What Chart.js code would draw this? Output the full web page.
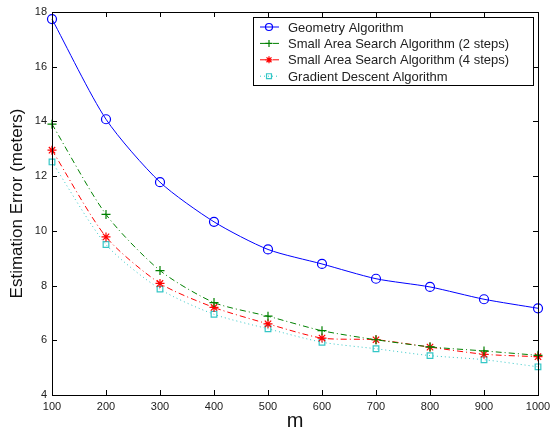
<!DOCTYPE html>
<html>
<head>
<meta charset="utf-8">
<script src="https://cdn.jsdelivr.net/npm/chart.js@4/dist/chart.umd.min.js"></script>
<style>
  html, body { margin: 0; padding: 0; background: #fff; }
  #wrap { width: 551px; height: 437px; }
</style>
</head>
<body>
<div id="wrap"><canvas id="c"></canvas></div>
<script>
const mValues = [100, 200, 300, 400, 500, 600, 700, 800, 900, 1000];
const geometry = [17.74, 14.08, 11.78, 10.33, 9.32, 8.79, 8.25, 7.95, 7.5, 7.17];
const sas2 = [13.9, 10.6, 8.55, 7.38, 6.88, 6.35, 6.02, 5.76, 5.61, 5.45];
const sas4 = [12.95, 9.78, 8.08, 7.2, 6.6, 6.08, 6.02, 5.75, 5.49, 5.4];
const gradient = [12.52, 9.5, 7.87, 6.95, 6.42, 5.93, 5.69, 5.44, 5.29, 5.03];
const labels = [
  "Geometry Algorithm",
  "Small Area Search Algorithm (2 steps)",
  "Small Area Search Algorithm (4 steps)",
  "Gradient Descent Algorithm"
];

const FONT = "Arial, 'Liberation Sans', Helvetica, sans-serif";

function pts(ys) {
  return mValues.map((x, i) => ({ x: x, y: ys[i] }));
}

// inward ticks on all sides, box frame, and the legend box
const framePlugin = {
  id: "frame",
  afterDatasetsDraw(chart) {
    const ctx = chart.ctx;
    const a = chart.chartArea;
    const xs = chart.scales.x, ys = chart.scales.y;
    ctx.save();
    ctx.strokeStyle = "#000";
    ctx.lineWidth = 1;
    ctx.strokeRect(Math.round(a.left) + 0.5, Math.round(a.top) + 0.5,
      Math.round(a.right - a.left), Math.round(a.bottom - a.top));
    ctx.beginPath();
    xs.ticks.forEach(t => {
      const px = Math.round(xs.getPixelForValue(t.value)) + 0.5;
      ctx.moveTo(px, a.bottom); ctx.lineTo(px, a.bottom - 5);
      ctx.moveTo(px, a.top); ctx.lineTo(px, a.top + 5);
    });
    ys.ticks.forEach(t => {
      const py = Math.round(ys.getPixelForValue(t.value)) + 0.5;
      ctx.moveTo(a.left, py); ctx.lineTo(a.left + 5, py);
      ctx.moveTo(a.right, py); ctx.lineTo(a.right - 5, py);
    });
    ctx.stroke();

    // legend
    const bx = 253, by = 17, bw = 280, bh = 68;
    ctx.fillStyle = "#fff";
    ctx.fillRect(bx, by, bw, bh);
    ctx.strokeStyle = "#000";
    ctx.strokeRect(bx + 0.5, by + 0.5, bw, bh);
    ctx.font = "13px " + FONT;
    ctx.textBaseline = "middle";
    chart.data.datasets.forEach((ds, i) => {
      const cy = 27 + i * 16.4;
      ctx.strokeStyle = ds.borderColor;
      ctx.lineWidth = 1;
      ctx.setLineDash(ds.borderDash || []);
      ctx.beginPath();
      ctx.moveTo(260, cy); ctx.lineTo(279, cy);
      ctx.stroke();
      ctx.setLineDash([]);
      ctx.fillStyle = "rgba(0,0,0,0)";
      ctx.lineWidth = 1.2;
      Chart.helpers.drawPoint(ctx, {
        pointStyle: ds.pointStyle, radius: 3.5, rotation: 0,
        borderWidth: 1.2
      }, 269, cy);
      ctx.fillStyle = "#222";
      ctx.fillText(labels[i], 288, cy + 1);
    });
    ctx.restore();
  }
};

function makeSet(i, ys, color, style, dash, radius) {
  return {
    label: labels[i],
    data: pts(ys),
    borderColor: color,
    backgroundColor: "rgba(0,0,0,0)",
    pointBorderColor: color,
    pointBackgroundColor: "rgba(0,0,0,0)",
    pointStyle: style,
    pointRadius: radius,
    pointBorderWidth: 1.2,
    borderWidth: 1,
    borderDash: dash,
    tension: 0.25,
    clip: false,
    fill: false
  };
}

new Chart(document.getElementById("c"), {
  type: "line",
  data: {
    datasets: [
      makeSet(0, geometry, "#0000ff", "circle", [], 4.5),
      makeSet(1, sas2, "#008000", "cross", [6, 3, 1, 3], 4.5),
      makeSet(2, sas4, "#ff0000", "star", [6, 3, 1, 3], 4.5),
      makeSet(3, gradient, "#33c6c6", "rect", [1, 3], 4)
    ]
  },
  options: {
    responsive: true,
    maintainAspectRatio: false,
    animation: false,
    layout: { padding: { top: 12, right: 13, left: 0, bottom: 0 } },
    plugins: { legend: { display: false }, tooltip: { enabled: false } },
    scales: {
      x: {
        type: "linear",
        min: 100, max: 1000,
        grid: { display: false, drawTicks: false },
        border: { display: false },
        ticks: { stepSize: 100, color: "#222", padding: 5, maxRotation: 0,
          callback: v => String(v),
          font: { family: FONT, size: 11 } },
        title: { display: true, text: "m", color: "#111",
          font: { family: FONT, size: 20 }, padding: { top: 0, bottom: 4 } },
        afterFit(s) { s.height = 42; s.paddingLeft = 0; s.paddingRight = 0; }
      },
      y: {
        min: 4, max: 18,
        grid: { display: false, drawTicks: false },
        border: { display: false },
        ticks: { stepSize: 2, color: "#222", padding: 5,
          font: { family: FONT, size: 11 } },
        title: { display: true, text: "Estimation Error (meters)", color: "#111",
          font: { family: FONT, size: 17 }, padding: { top: 7, bottom: 0 } },
        afterFit(s) { s.width = 52; s.paddingTop = 0; s.paddingBottom = 0; }
      }
    }
  },
  plugins: [framePlugin]
});
</script>
</body>
</html>
